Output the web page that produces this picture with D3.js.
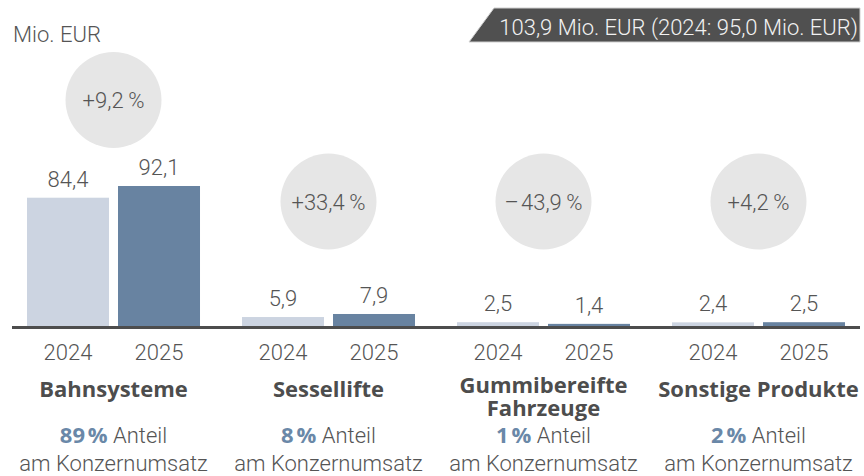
<!DOCTYPE html>
<html>
<head>
<meta charset="utf-8">
<script src="https://cdn.jsdelivr.net/npm/d3@7"></script>
<style>
  html, body { margin: 0; padding: 0; background: #fff; }
  svg { display: block; }
  text { font-family: Roboto, "Liberation Sans", sans-serif; }
  .bold { font-family: "Open Sans", "Noto Sans", sans-serif; font-weight: 700; }
</style>
</head>
<body>
<svg id="chart"></svg>
<script>
"use strict";

// data
const categories = [ "Bahnsysteme", "Sessellifte", "Gummibereifte Fahrzeuge", "Sonstige Produkte" ];
const categoryLines = [ ["Bahnsysteme"], ["Sessellifte"], ["Gummibereifte", "Fahrzeuge"], ["Sonstige Produkte"] ];
const years = [ "2024", "2025" ];
const values2024 = [ 84.4, 5.9, 2.5, 2.4 ];
const values2025 = [ 92.1, 7.9, 1.4, 2.5 ];
const changes = [ "+9,2\u2009%", "+33,4\u2009%", "\u2013\u200A43,9\u2009%", "+4,2\u2009%" ];
const shares = [ "89\u202F%", "8\u202F%", "1\u202F%", "2\u202F%" ];
const unitLabel = "Mio. EUR";
const totalLabel = "103,9 Mio. EUR (2024: 95,0 Mio. EUR)";

const width = 864, height = 476;
const colors = { "2024": "#ccd4e1", "2025": "#6883a1" };
const textColor = "#555555";

const fmt = (v) => d3.format(".1f")(v).replace(".", ",");

const svg = d3.select("#chart")
  .attr("width", width)
  .attr("height", height)
  .attr("viewBox", `0 0 ${width} ${height}`);

// scales
const x0 = d3.scaleBand()
  .domain(categories)
  .range([27, 845])
  .paddingInner(0.1953)
  .paddingOuter(0);

const x1 = d3.scaleBand()
  .domain(years)
  .range([0, x0.bandwidth()])
  .paddingInner(0.099)
  .paddingOuter(0);

const y = d3.scaleLinear()
  .domain([0, 100])
  .range([326, 174]);

const rows = categories.map((c, i) => ({
  cat: c,
  lines: categoryLines[i],
  change: changes[i],
  share: shares[i],
  vals: [ { year: "2024", v: values2024[i] }, { year: "2025", v: values2025[i] } ]
}));

// unit label
svg.append("text")
  .attr("x", 13).attr("y", 42)
  .attr("font-size", 22).attr("font-weight", 300)
  .attr("fill", textColor)
  .text(unitLabel);

// total banner
const banner = svg.append("g");
banner.append("path")
  .attr("d", "M469,42 L494,8 L860,8 L860,42 Z")
  .attr("fill", "#505050")
  .attr("stroke", "#cfcfcf")
  .attr("stroke-width", 1);
banner.append("text")
  .attr("x", 858).attr("y", 34.5)
  .attr("text-anchor", "end")
  .attr("font-size", 22).attr("font-weight", 300)
  .attr("fill", "#f2f2f2")
  .text(totalLabel);

const groups = svg.selectAll("g.group")
  .data(rows)
  .join("g")
  .attr("class", "group")
  .attr("transform", (d) => `translate(${x0(d.cat)},0)`);

// change circles
const cx = x0.bandwidth() / 2;
const circleY = (d) => Math.min(201.5, y(d3.max(d.vals, (e) => e.v)) - 86);

groups.append("circle")
  .attr("cx", cx)
  .attr("cy", circleY)
  .attr("r", 48)
  .attr("fill", "#e6e6e6");

groups.append("text")
  .attr("x", cx)
  .attr("y", (d) => circleY(d) + 8)
  .attr("text-anchor", "middle")
  .attr("font-size", 22).attr("font-weight", 300)
  .attr("fill", textColor)
  .text((d) => d.change);

// bars
groups.selectAll("rect.bar")
  .data((d) => d.vals)
  .join("rect")
  .attr("class", "bar")
  .attr("x", (d) => x1(d.year))
  .attr("width", x1.bandwidth())
  .attr("y", (d) => y(d.v))
  .attr("height", (d) => y(0) - y(d.v) + 1)
  .attr("fill", (d) => colors[d.year]);

// value labels
groups.selectAll("text.value")
  .data((d) => d.vals)
  .join("text")
  .attr("class", "value")
  .attr("x", (d) => x1(d.year) + x1.bandwidth() / 2)
  .attr("y", (d) => y(d.v) - 11)
  .attr("text-anchor", "middle")
  .attr("font-size", 22).attr("font-weight", 300)
  .attr("fill", textColor)
  .text((d) => fmt(d.v));

// year labels
groups.selectAll("text.year")
  .data((d) => d.vals)
  .join("text")
  .attr("class", "year")
  .attr("x", (d) => x1(d.year) + x1.bandwidth() / 2)
  .attr("y", 360)
  .attr("text-anchor", "middle")
  .attr("font-size", 22).attr("font-weight", 300)
  .attr("fill", textColor)
  .text((d) => d.year);

// baseline
svg.append("rect")
  .attr("x", 12).attr("y", y(0))
  .attr("width", 848).attr("height", 3)
  .attr("fill", "#4d4d4d");

// category names
groups.append("text")
  .attr("class", "bold")
  .attr("text-anchor", "middle")
  .attr("font-size", 22)
  .attr("fill", "#4d4d4d")
  .selectAll("tspan")
  .data((d) => d.lines.map((l, i) => ({ l, i, n: d.lines.length })))
  .join("tspan")
  .attr("x", cx)
  .attr("y", (d) => (d.n > 1 ? 393 : 396.5) + d.i * 23)
  .text((d) => d.l);

// share text
const share = groups.append("text")
  .attr("x", cx).attr("y", 443)
  .attr("text-anchor", "middle")
  .attr("font-size", 22).attr("font-weight", 300)
  .attr("fill", textColor);
share.append("tspan")
  .attr("class", "bold")
  .attr("fill", "#6a88a8")
  .text((d) => d.share);
share.append("tspan").text(" Anteil");

groups.append("text")
  .attr("x", cx).attr("y", 471)
  .attr("text-anchor", "middle")
  .attr("font-size", 22).attr("font-weight", 300)
  .attr("fill", textColor)
  .text("am Konzernumsatz");
</script>
</body>
</html>
